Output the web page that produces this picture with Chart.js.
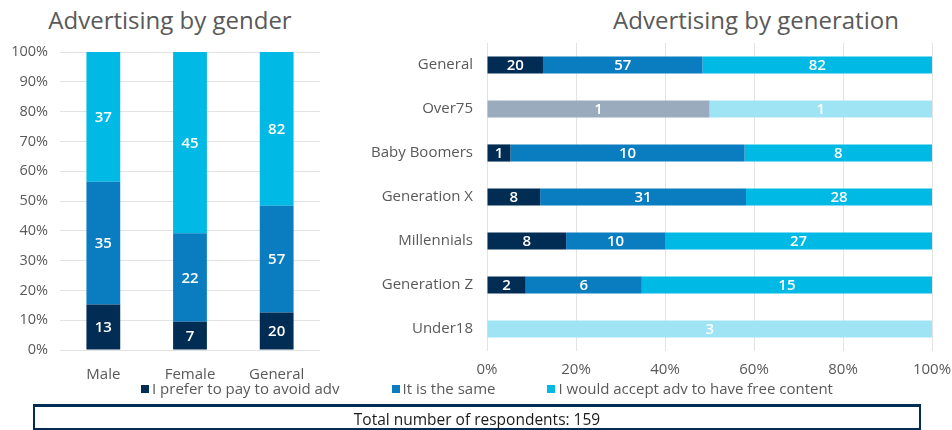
<!DOCTYPE html>
<html>
<head>
<meta charset="utf-8">
<script src="https://cdn.jsdelivr.net/npm/chart.js@4.4.1/dist/chart.umd.min.js"></script>
<style>
  html, body { margin: 0; padding: 0; background: #ffffff; }
  body { width: 952px; height: 430px; position: relative; overflow: hidden; font-family: 'Open Sans', sans-serif; }
  #genderWrap { position: absolute; left: 0; top: 0; width: 340px; height: 385px; }
  #generationWrap { position: absolute; left: 350px; top: 0; width: 602px; height: 385px; }
  .title { position: absolute; top: 4px; height: 32px; line-height: 32px; font-size: 24px; color: #595959; white-space: nowrap; transform: translateX(-50%); }
  #genderTitle { left: 170px; }
  #generationTitle { left: 756px; }
  #legend { position: absolute; left: 0; top: 378px; width: 974px; text-align: center; font-size: 15px; color: #595959; white-space: nowrap; }
  #legend span.item { display: inline-block; margin: 0 26px; }
  #legend span.box { display: inline-block; width: 8px; height: 8px; margin-right: 3px; vertical-align: 1px; }
  #total { position: absolute; left: 33px; top: 404px; width: 888px; height: 26px; border: 2px solid #012d54; border-top-width: 3px; box-sizing: border-box; text-align: center; font-size: 15.5px; line-height: 24px; color: #1a1a1a; }
</style>
</head>
<body>
<div id="genderTitle" class="title">Advertising by gender</div>
<div id="generationTitle" class="title">Advertising by generation</div>
<div id="genderWrap"><canvas id="gender"></canvas></div>
<div id="generationWrap"><canvas id="generation"></canvas></div>
<div id="legend"></div>
<div id="total">Total number of respondents: 159</div>
<script>
// Survey answers (respondent counts)
const seriesNames = ['I prefer to pay to avoid adv', 'It is the same', 'I would accept adv to have free content'];

const genderCategories = ['Male', 'Female', 'General'];
const genderPay    = [13, 7, 20];
const genderSame   = [35, 22, 57];
const genderAccept = [37, 45, 82];

const generationCategories = ['General', 'Over75', 'Baby Boomers', 'Generation X', 'Millennials', 'Generation Z', 'Under18'];
const generationPay    = [20, 1, 1, 8, 8, 2, 0];
const generationSame   = [57, 0, 10, 31, 10, 6, 0];
const generationAccept = [82, 1, 8, 28, 27, 15, 3];

// Groups with very few respondents are shown faded
const fadedGroups = ['Over75', 'Under18'];

const percentTicks = [0, 10, 20, 30, 40, 50, 60, 70, 80, 90, 100];
const generationTicks = [0, 20, 40, 60, 80, 100];

const colors = ['#012d54', '#0a7dc1', '#00bae5'];
const fadedColors = ['#9aabbd', '#9ee4f5', '#9ee4f5'];
const FONT = "'Open Sans', sans-serif";
const GREY = '#595959';

function toPercent(series) {
  const totals = series[0].map((_, i) => series.reduce((s, arr) => s + arr[i], 0));
  return series.map(arr => arr.map((v, i) => totals[i] ? v / totals[i] * 100 : 0));
}

// Writes each segment's respondent count in its middle
const countLabels = {
  id: 'countLabels',
  afterDatasetsDraw(chart) {
    const ctx = chart.ctx;
    const horizontal = chart.options.indexAxis === 'y';
    ctx.save();
    ctx.font = "600 15px " + FONT;
    ctx.fillStyle = '#ffffff';
    ctx.textAlign = 'center';
    ctx.textBaseline = 'middle';
    chart.data.datasets.forEach((ds, di) => {
      const meta = chart.getDatasetMeta(di);
      meta.data.forEach((el, i) => {
        const n = ds.counts[i];
        if (!n) return;
        const p = el.getProps(['x', 'y', 'base'], true);
        const x = horizontal ? (p.x + p.base) / 2 : p.x;
        const y = horizontal ? p.y : (p.y + p.base) / 2;
        ctx.fillText(String(n), x, y + 1);
      });
    });
    ctx.restore();
  }
};

function buildDatasets(categories, series) {
  const pct = toPercent(series);
  return series.map((arr, si) => ({
    label: seriesNames[si],
    data: pct[si],
    counts: arr,
    backgroundColor: categories.map(c => fadedGroups.includes(c) ? fadedColors[si] : colors[si]),
    borderWidth: 0,
    barPercentage: 0.39,
    categoryPercentage: 1
  }));
}

new Chart(document.getElementById('gender'), {
  type: 'bar',
  data: {
    labels: genderCategories,
    datasets: buildDatasets(genderCategories, [genderPay, genderSame, genderAccept])
  },
  options: {
    responsive: true,
    maintainAspectRatio: false,
    animation: false,
    layout: { padding: { left: 0, right: 20, top: 52, bottom: 0 } },
    plugins: { legend: { display: false }, title: { display: false }, tooltip: { enabled: false } },
    scales: {
      x: {
        stacked: true,
        grid: { display: false },
        border: { display: false },
        afterFit(scale) { scale.height = 35; },
        ticks: { color: GREY, font: { family: FONT, size: 15 }, padding: 8 }
      },
      y: {
        stacked: true,
        min: 0, max: 100,
        afterBuildTicks(axis) { axis.ticks = percentTicks.map(v => ({ value: v })); },
        afterFit(scale) { scale.width = 60; },
        grid: { color: '#e3e3e3', drawTicks: false },
        border: { display: false },
        ticks: { color: GREY, font: { family: FONT, size: 14.5 }, padding: 12, callback: v => v + '%' }
      }
    }
  },
  plugins: [countLabels]
});

new Chart(document.getElementById('generation'), {
  type: 'bar',
  data: {
    labels: generationCategories,
    datasets: buildDatasets(generationCategories, [generationPay, generationSame, generationAccept])
  },
  options: {
    indexAxis: 'y',
    responsive: true,
    maintainAspectRatio: false,
    animation: false,
    layout: { padding: { left: 0, right: 20, top: 43, bottom: 0 } },
    plugins: { legend: { display: false }, title: { display: false }, tooltip: { enabled: false } },
    scales: {
      x: {
        stacked: true,
        min: 0, max: 100,
        afterBuildTicks(axis) { axis.ticks = generationTicks.map(v => ({ value: v })); },
        afterFit(scale) { scale.height = 34; scale.paddingRight = 0; scale.paddingLeft = 0; },
        grid: { color: '#e3e3e3', drawTicks: false },
        border: { display: false },
        ticks: { color: GREY, font: { family: FONT, size: 15 }, padding: 10, callback: v => v + '%' }
      },
      y: {
        stacked: true,
        afterFit(scale) { scale.width = 137; },
        grid: { display: false },
        border: { display: false },
        ticks: { color: GREY, font: { family: FONT, size: 15 }, padding: 6 }
      }
    }
  },
  plugins: [countLabels]
});

// Shared legend below both charts
const legendEl = document.getElementById('legend');
seriesNames.forEach((name, i) => {
  const item = document.createElement('span');
  item.className = 'item';
  const box = document.createElement('span');
  box.className = 'box';
  box.style.background = colors[i];
  item.appendChild(box);
  item.appendChild(document.createTextNode(name));
  legendEl.appendChild(item);
});
</script>
</body>
</html>
